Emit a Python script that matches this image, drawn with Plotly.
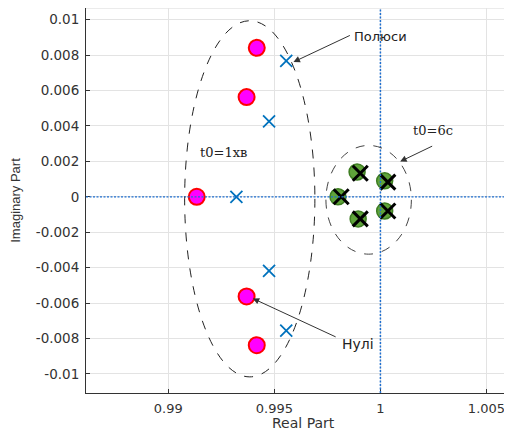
import plotly.graph_objects as go

# Zeros / poles for t0 = 1 min
zeros1_re = [0.99134, 0.99369, 0.99369, 0.99417, 0.99417]
zeros1_im = [0.0, 0.00563, -0.00563, 0.00841, -0.00838]
poles1_re = [0.99321, 0.99475, 0.99475, 0.99556, 0.99556]
poles1_im = [0.0, 0.00426, -0.00418, 0.00767, -0.00756]
# Zeros / poles for t0 = 6 s
zeros2_re = [0.99800, 0.99890, 1.00020, 0.99895, 1.00020]
zeros2_im = [0.0, 0.00140, 0.00090, -0.00125, -0.00080]
poles2_re = [0.99815, 0.99905, 1.00035, 0.99905, 1.00035]
poles2_im = [0.0, 0.00133, 0.00083, -0.00125, -0.00080]

x_ticks = [0.99, 0.995, 1.0, 1.005]
x_tick_text = ["0.99", "0.995", "1", "1.005"]
y_ticks = [0.01, 0.008, 0.006, 0.004, 0.002, 0, -0.002, -0.004, -0.006, -0.008, -0.01]
y_tick_text = ["0.01", "0.008", "0.006", "0.004", "0.002", "0", "-0.002", "-0.004", "-0.006", "-0.008", "-0.01"]

fig = go.Figure()
fig.add_trace(go.Scatter(x=zeros2_re, y=zeros2_im, mode="markers",
                         marker=dict(symbol="circle", size=16, color="#5fa33a",
                                     line=dict(color="#3e7d22", width=1.5))))
fig.add_trace(go.Scatter(x=poles2_re, y=poles2_im, mode="markers",
                         marker=dict(symbol="x-thin", size=15, color="black",
                                     line=dict(color="black", width=3))))
fig.add_trace(go.Scatter(x=zeros1_re, y=zeros1_im, mode="markers",
                         marker=dict(symbol="circle", size=16, color="#ff00ff",
                                     line=dict(color="#ff0000", width=2))))
fig.add_trace(go.Scatter(x=poles1_re, y=poles1_im, mode="markers",
                         marker=dict(symbol="x-thin", size=12, color="#0072BD",
                                     line=dict(color="#0072BD", width=1.8))))

shapes = [
    dict(type="line", xref="x", yref="paper", x0=1.0, x1=1.0, y0=0, y1=1,
         line=dict(color="#1f6fd0", width=1.5, dash="2px,1.5px"), layer="above"),
    dict(type="line", xref="paper", yref="y", x0=0, x1=1, y0=0, y1=0,
         line=dict(color="#1f6fd0", width=1.2, dash="2px,1.5px"), layer="above"),
    dict(type="line", xref="paper", yref="paper", x0=0, x1=1, y0=1, y1=1,
         line=dict(color="#d8d8d8", width=1), layer="below"),
    dict(type="circle", xref="x", yref="y", x0=0.99077, x1=0.99691, y0=-0.01017, y1=0.00994,
         line=dict(color="#222222", width=1, dash="dash")),
    dict(type="circle", xref="x", yref="y", x0=0.99743, x1=1.00146, y0=-0.00324, y1=0.0029,
         line=dict(color="#444444", width=1, dash="dash")),
]

annotations = [
    dict(x=0.99590, y=0.00761, ax=0.99863, ay=0.00915, axref="x", ayref="y", xref="x", yref="y",
         showarrow=True, arrowhead=2, arrowsize=1.3, arrowwidth=1, arrowcolor="#333333", text=""),
    dict(x=1.00002, y=0.00903, xref="x", yref="y", text="Полюси", showarrow=False,
         font=dict(family="DejaVu Sans", size=13, color="#222222")),
    dict(x=1.00093, y=0.00199, ax=1.00251, ay=0.0029, axref="x", ayref="y", xref="x", yref="y",
         showarrow=True, arrowhead=2, arrowsize=1.3, arrowwidth=1, arrowcolor="#333333", text=""),
    dict(x=1.00246, y=0.00375, xref="x", yref="y", text="t0=6c", showarrow=False,
         font=dict(family="DejaVu Serif", size=13, color="#222222")),
    dict(x=0.99398, y=-0.00574, ax=0.99796, ay=-0.00795, axref="x", ayref="y", xref="x", yref="y",
         showarrow=True, arrowhead=2, arrowsize=1.3, arrowwidth=1, arrowcolor="#333333", text=""),
    dict(x=0.99892, y=-0.0083, xref="x", yref="y", text="Нулі", showarrow=False,
         font=dict(family="DejaVu Sans", size=14, color="#222222")),
    dict(x=0.99259, y=0.0025, xref="x", yref="y", text="t0=1хв", showarrow=False,
         font=dict(family="DejaVu Serif", size=13, color="#222222")),
    dict(x=0.5, y=-0.079, xref="paper", yref="paper", text="Real Part", showarrow=False,
         xanchor="center", yanchor="middle",
         font=dict(family="DejaVu Sans", size=14, color="#333333")),
]

fig.update_layout(
    width=512, height=434,
    margin=dict(l=78, r=0, t=0, b=49),
    paper_bgcolor="white", plot_bgcolor="white",
    showlegend=False,
    shapes=shapes, annotations=annotations,
    font=dict(family="DejaVu Sans", size=13, color="#333333"),
    xaxis=dict(range=[0.98612, 1.00658], tickvals=x_ticks, ticktext=x_tick_text,
               automargin=False,
               showgrid=True, gridcolor="#e3e3e3", gridwidth=1, zeroline=False,
               showline=True, linecolor="#333333", linewidth=1, mirror=False,
               ticks="inside", ticklen=4, tickcolor="#333333", ticklabelstandoff=3,
               tickfont=dict(family="DejaVu Sans", size=13, color="#333333")),
    yaxis=dict(range=[-0.01108, 0.01066], tickvals=y_ticks, ticktext=y_tick_text,
               automargin=False,
               showgrid=True, gridcolor="#e3e3e3", gridwidth=1, zeroline=False,
               showline=True, linecolor="#333333", linewidth=1,
               ticks="inside", ticklen=4, tickcolor="#333333", ticklabelstandoff=3,
               title=dict(text="Imaginary Part", font=dict(family="Liberation Sans", size=13, color="#333333"),
                          standoff=13),
               tickfont=dict(family="DejaVu Sans", size=13.5, color="#333333")),
)

fig.write_html("out.html")
